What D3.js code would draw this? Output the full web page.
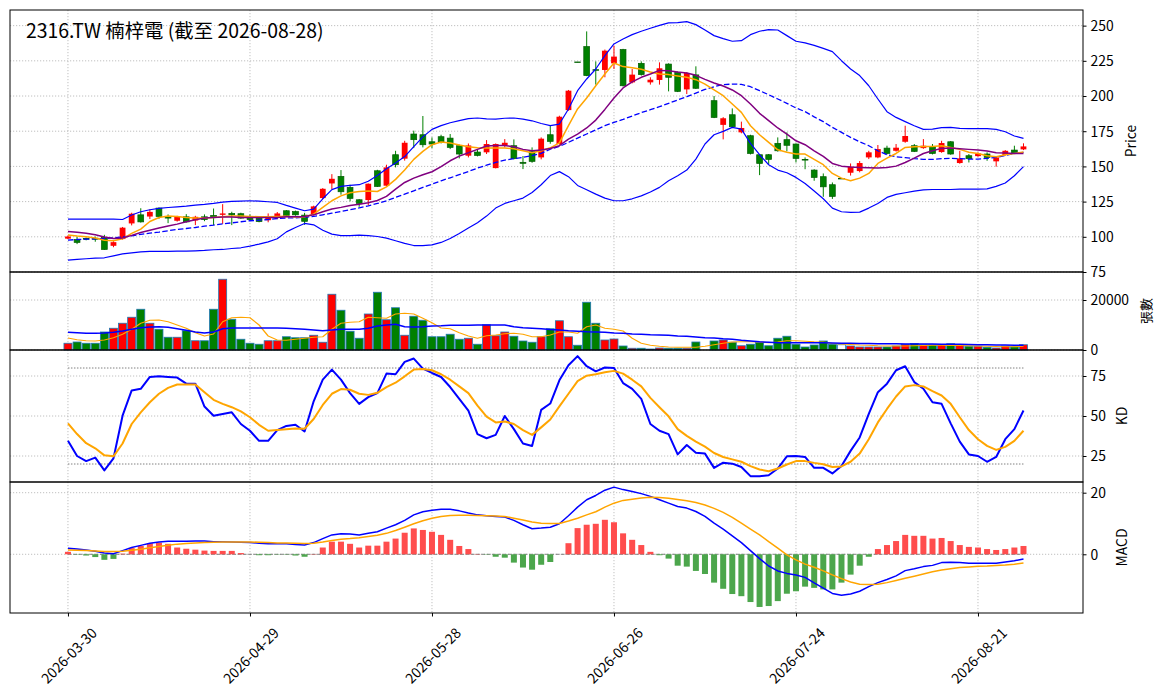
<!DOCTYPE html>
<html lang="zh-Hant">
<head>
    <meta charset="UTF-8">
    <title>2316.TW 楠梓電</title>
    <script src="https://cdn.jsdelivr.net/npm/d3@7"></script>
    <style>
        body { margin: 0; background: #ffffff; }
        svg text { font-family: "Noto Sans CJK TC", "Noto Sans", sans-serif; fill: #000; }
    </style>
</head>
<body>
<svg id="chart"></svg>
<script>
//Trading calendar (weekdays, minus exchange holidays)
const firstDay = "2026-03-30", lastDay = "2026-08-28";
const holidays = ["2026-04-03", "2026-04-06", "2026-05-01", "2026-06-19"];
const tickEvery = 20;
const title = "2316.TW 楠梓電 (截至 2026-08-28)";

//Daily OHLC, one value per trading day
const opens = [
    98.7, 98.1, 98.9, 99.0, 99.5, 93.6, 98.4, 109.5, 115.6, 114.4,
    120.4, 114.2, 111.4, 114.2, 111.6, 114.2, 115.2, 115.6, 116.6, 116.4,
    114.2, 113.3, 111.8, 114.0, 118.5, 117.9, 115.4, 115.6, 127.5, 137.9,
    142.9, 135.1, 126.3, 126.1, 146.9, 136.3, 158.3, 155.5, 173.0, 172.5,
    167.5, 171.1, 170.1, 164.7, 157.6, 160.2, 160.0, 148.8, 165.2, 164.7,
    152.9, 160.4, 156.4, 172.5, 165.9, 190.0, 224.2, 235.1, 218.7, 218.5,
    223.2, 233.0, 209.7, 223.2, 209.7, 211.4, 222.7, 216.8, 204.7, 215.0,
    205.5, 196.7, 179.5, 186.7, 174.2, 171.8, 158.3, 158.3, 166.4, 169.0,
    165.9, 154.9, 147.4, 142.7, 137.0, 141.5, 145.5, 146.7, 156.4, 156.4,
    163.0, 161.1, 167.5, 164.7, 163.0, 164.0, 160.2, 167.5, 152.4, 157.6,
    157.3, 158.8, 153.6, 158.1, 161.6, 162.1];
const highs = [
    100.8, 100.0, 99.5, 100.2, 101.4, 96.8, 107.0, 117.1, 120.3, 119.5,
    120.8, 115.9, 114.9, 116.1, 114.9, 115.9, 120.1, 123.2, 117.8, 117.1,
    115.9, 114.0, 116.6, 117.6, 119.0, 118.6, 117.0, 122.1, 134.6, 144.5,
    147.4, 137.0, 126.8, 137.9, 147.6, 151.2, 161.1, 168.2, 175.4, 185.8,
    170.6, 172.5, 173.0, 165.5, 166.3, 162.1, 168.7, 166.3, 169.4, 169.2,
    157.4, 163.5, 170.6, 178.9, 186.0, 204.3, 224.2, 245.9, 224.6, 233.0,
    235.8, 233.5, 219.2, 224.6, 213.3, 223.9, 223.2, 217.5, 217.0, 221.1,
    205.5, 200.0, 185.0, 191.2, 181.8, 172.5, 158.8, 158.8, 170.6, 174.2,
    166.3, 156.4, 148.0, 145.0, 138.6, 141.5, 152.1, 153.8, 161.1, 165.2,
    164.7, 165.9, 178.9, 165.9, 169.4, 165.9, 168.2, 168.0, 161.1, 158.8,
    160.0, 160.0, 157.0, 161.6, 164.7, 166.4];
const lows = [
    98.3, 94.8, 97.5, 96.5, 90.8, 92.6, 98.0, 108.1, 110.1, 112.6,
    112.8, 109.7, 110.8, 110.1, 108.3, 111.1, 108.3, 109.2, 108.3, 112.8,
    111.4, 110.3, 110.3, 112.5, 114.5, 115.0, 108.5, 115.0, 126.8, 133.9,
    129.9, 125.2, 121.3, 122.5, 135.4, 135.9, 149.3, 154.1, 163.0, 163.5,
    163.0, 166.3, 162.3, 155.7, 156.4, 157.1, 158.8, 148.6, 163.5, 155.0,
    148.1, 152.6, 155.0, 166.1, 165.5, 189.5, 224.0, 214.1, 208.1, 213.3,
    219.2, 206.8, 209.0, 214.5, 208.1, 208.1, 203.3, 202.8, 201.4, 205.0,
    205.5, 184.3, 169.2, 177.5, 173.5, 158.5, 143.8, 151.6, 160.5, 160.7,
    152.8, 148.0, 139.8, 128.4, 126.9, 141.5, 143.5, 145.8, 155.2, 155.8,
    158.5, 160.5, 166.8, 160.2, 162.5, 158.5, 159.7, 158.3, 151.9, 152.8,
    156.8, 154.0, 149.8, 157.6, 158.8, 161.6];
const closes = [
    100.2, 96.0, 98.3, 98.3, 91.0, 96.2, 106.5, 116.4, 110.6, 117.7,
    114.4, 113.3, 114.2, 110.6, 114.2, 112.2, 113.7, 116.6, 115.6, 113.3,
    112.2, 110.8, 114.7, 116.6, 115.2, 115.6, 111.0, 121.6, 134.1, 141.2,
    132.0, 127.3, 123.7, 137.7, 135.8, 149.3, 151.2, 166.8, 169.0, 165.4,
    165.9, 167.5, 163.5, 158.8, 164.9, 157.8, 165.9, 165.9, 166.8, 155.5,
    152.2, 153.6, 169.7, 167.8, 185.3, 203.8, 224.0, 214.5, 218.3, 232.2,
    228.0, 207.3, 215.2, 215.2, 211.6, 219.7, 213.3, 203.3, 216.4, 205.5,
    205.5, 184.8, 184.2, 178.2, 177.3, 159.2, 152.1, 155.0, 161.1, 165.0,
    155.7, 154.6, 142.2, 135.5, 128.7, 141.5, 149.8, 152.4, 160.0, 162.3,
    159.2, 163.3, 171.6, 160.7, 164.7, 159.2, 166.6, 158.8, 155.7, 155.5,
    159.2, 156.4, 156.4, 161.1, 159.2, 164.2];

//Volume in 張
const volumes = [
    2700, 3200, 2700, 2700, 7200, 8700, 10700, 13100, 16300, 10700,
    8300, 5100, 5100, 7700, 3700, 3700, 16300, 28300, 12300, 4300,
    2700, 2300, 3700, 3700, 5300, 4900, 4900, 5900, 3100, 22300,
    15900, 7500, 4700, 14400, 23100, 12100, 16900, 5900, 13500, 11900,
    5300, 5300, 6300, 4300, 4700, 2300, 10100, 5700, 7200, 5500,
    3600, 3100, 5300, 8500, 11700, 5300, 1900, 19100, 10700, 4000,
    4400, 1600, 700, 700, 400, 800, 700, 700, 700, 3200,
    0, 3600, 4000, 3100, 1700, 2300, 3100, 1700, 4700, 5500,
    2300, 1200, 2000, 3600, 2300, 2100, 1600, 1200, 1200, 1200,
    1200, 1600, 2300, 2600, 2100, 2100, 2100, 2500, 1900, 1500,
    1500, 1100, 800, 1600, 1300, 2100];

//Moving averages and Bollinger bands on price
const ma5 = [
    101.2, 100.5, 100.0, 99.1, 97.6, 97.2, 98.6, 102.4, 105.5, 110.9, 113.7, 114.7, 114.5, 113.7, 113.3, 113.3, 113.7, 114.2, 114.7, 114.7, 114.5, 114.2, 114.2, 114.5, 114.6,
    114.0, 114.2, 116.1, 120.9, 125.6, 129.1, 131.3, 132.2, 132.5, 132.2, 135.5, 140.8, 147.4, 155.0, 160.7, 165.4, 167.3, 166.6, 165.2, 164.0, 163.3, 163.0, 163.0, 163.0, 162.6, 161.1, 159.7, 161.1, 163.2, 166.7,
    178.9, 190.8, 198.6, 207.3, 215.6, 223.5, 220.9, 220.1, 219.0, 217.1, 215.6, 215.2, 214.2, 213.3, 211.6, 208.5, 204.3, 200.2, 194.3, 188.4, 178.9, 172.5, 167.1, 161.8, 160.0, 158.8, 158.8, 155.0, 151.2,
    145.0, 141.7, 139.8, 141.7, 145.0, 152.1, 155.9, 159.2, 163.5, 164.0, 164.2, 164.2, 164.7, 163.5, 162.1, 160.0, 159.2, 157.6, 156.9, 158.3, 159.2, 160.2];
const ma10 = [
    103.8, 103.3, 102.6, 101.4, 99.8, 98.8, 99.1, 101.0, 103.1, 104.7, 106.2, 107.6, 109.0, 110.7, 112.1, 113.3, 113.7, 114.0, 114.0, 113.7, 113.7, 113.7, 113.7, 113.7, 114.2,
    114.2, 114.5, 115.6, 117.8, 119.7, 120.9, 122.3, 123.2, 124.2, 125.8, 128.7, 133.9, 138.6, 141.7, 144.1, 146.2, 149.8, 154.0, 157.3, 159.7, 162.1, 164.5, 164.9, 164.9, 164.0, 162.1, 161.1, 161.6, 162.7, 164.7,
    169.4, 173.0, 177.3, 182.9, 190.5, 198.6, 205.7, 210.0, 213.3, 215.6, 218.2, 218.0, 217.1, 216.4, 214.7, 211.8, 209.2, 207.1, 204.3, 200.2, 194.3, 187.7, 182.5, 177.3, 173.0, 168.2, 165.4, 161.1, 157.1,
    152.1, 150.2, 149.5, 149.3, 149.0, 148.8, 149.3, 150.2, 152.8, 155.9, 159.2, 161.1, 162.8, 163.0, 162.6, 162.1, 161.6, 160.9, 159.7, 159.5, 159.2, 159.2];
const ma20 = [
    97.6, 98.1, 98.3, 98.6, 98.8, 99.3, 99.8, 100.7, 101.7, 102.6, 103.3, 104.3, 105.2, 105.9, 106.6, 107.6, 108.3, 109.2, 109.9, 110.7, 111.4, 111.8, 112.3, 113.0, 113.4,
    113.5, 114.0, 114.5, 115.6, 116.8, 118.0, 119.2, 120.6, 122.0, 123.7, 125.6, 128.0, 130.3, 132.7, 135.1, 137.4, 139.8, 141.9, 144.1, 146.4, 148.8, 150.9, 152.8, 154.5, 155.5, 156.4, 157.6, 159.2, 162.3, 164.2,
    167.1, 170.1, 173.0, 176.0, 178.9, 181.3, 183.4, 185.8, 188.2, 190.3, 192.4, 194.8, 197.2, 199.5, 202.1, 204.7, 206.6, 208.1, 208.5, 208.3, 206.6, 203.8, 200.9, 197.9, 194.8, 191.5, 188.9, 185.2, 181.8,
    177.7, 174.2, 170.6, 167.5, 164.7, 161.1, 158.3, 156.9, 156.2, 155.5, 155.0, 155.0, 155.5, 155.7, 155.5, 155.2, 155.2, 155.7, 156.4, 157.8, 159.2, 160.0];
const bbUpper = [
    112.6, 112.6, 112.6, 112.6, 112.6, 112.5, 112.3, 115.5, 117.8, 119.2, 120.2, 120.8, 121.3, 121.8, 122.5, 123.0, 123.7, 124.6, 125.1, 125.4, 125.6, 125.3, 124.9, 124.4, 122.3,
    120.4, 118.5, 119.7, 127.0, 133.5, 135.8, 136.5, 137.0, 139.5, 143.6, 148.3, 152.5, 157.0, 164.0, 171.0, 176.3, 179.0, 181.0, 182.5, 184.0, 184.4, 183.8, 183.6, 184.2, 184.4, 183.6, 182.4, 180.5, 179.0, 180.1,
    190.8, 203.8, 212.1, 219.2, 228.7, 237.0, 240.5, 243.6, 246.0, 248.1, 250.2, 251.9, 252.1, 252.8, 250.7, 246.9, 242.9, 240.8, 238.9, 239.3, 243.6, 246.0, 247.2, 246.9, 242.9, 238.9, 237.7, 236.0, 233.8,
    231.5, 225.1, 219.2, 214.5, 207.3, 197.9, 188.9, 184.8, 181.8, 178.9, 176.3, 176.5, 177.5, 177.7, 177.0, 176.8, 176.8, 176.8, 176.3, 174.6, 171.6, 169.9];
const bbLower = [
    83.4, 83.9, 84.4, 84.8, 85.1, 86.5, 87.9, 88.6, 89.3, 89.6, 89.6, 89.6, 89.8, 89.8, 90.0, 90.3, 90.8, 91.0, 91.7, 92.2, 93.4, 94.8, 96.4, 98.6, 103.5,
    106.6, 109.5, 108.5, 104.7, 101.9, 100.9, 100.9, 101.2, 100.9, 100.2, 99.1, 97.2, 95.3, 93.8, 93.8, 94.3, 96.0, 98.8, 102.4, 106.2, 110.0, 114.7, 120.4, 123.7, 125.6, 127.5, 131.5, 137.0, 143.5, 146.3,
    142.7, 136.5, 133.4, 130.3, 127.5, 125.6, 125.6, 127.0, 129.1, 131.8, 135.1, 139.8, 143.4, 147.4, 155.2, 165.9, 172.5, 174.9, 177.7, 176.5, 166.4, 158.3, 151.2, 147.4, 145.5, 142.2, 137.9, 132.5, 127.0,
    120.4, 117.8, 117.3, 117.5, 120.4, 123.7, 128.0, 130.1, 131.3, 132.5, 133.4, 133.6, 133.6, 133.6, 133.9, 133.9, 133.9, 134.1, 135.8, 138.2, 143.4, 149.8];

//Volume averages
const volMa5 = [
    4800, 4100, 3700, 3600, 4000, 4900, 6300, 8300, 10700, 11900, 12000, 11300, 10000, 8700, 6900, 5600, 6400, 11300, 12900, 13100, 12900, 10000, 5600, 4000, 3900,
    4300, 4700, 5100, 5300, 8300, 10700, 11100, 11300, 13100, 12900, 12700, 14400, 14700, 14400, 12700, 10900, 8800, 8500, 6900, 5600, 4700, 5700, 6000, 6500, 6700, 6300, 5300, 5300, 6000, 7200,
    7200, 6700, 9300, 10000, 8700, 8300, 7600, 4700, 2700, 1900, 1500, 1200, 1100, 1100, 1100, 1500, 2100, 2700, 3200, 3300, 3300, 3200, 2900, 3200, 3700, 3700, 3500, 3300, 3200,
    2600, 2400, 2200, 2000, 1900, 1700, 1600, 1600, 1600, 1700, 1800, 1900, 1900, 1800, 1800, 1700, 1600, 1500, 1400, 1300, 1300, 1500];
const volMa20 = [
    7100, 6900, 6700, 6700, 6800, 7100, 7600, 8300, 8900, 9200, 9300, 9100, 8500, 7900, 7200, 6800, 7200, 8500, 8800, 8800, 8800, 8800, 8800, 8800, 8700,
    8500, 8300, 8000, 7700, 8000, 8300, 8300, 8300, 8700, 9600, 10000, 10300, 9300, 9200, 9300, 9600, 9700, 9900, 9900, 9900, 10000, 10000, 10000, 10000, 9300, 8900, 8700, 8500, 8200, 8000,
    7700, 7500, 7300, 7200, 7100, 6800, 6700, 6400, 6300, 6100, 6000, 5900, 5600, 5500, 5200, 4900, 4800, 4500, 4300, 3900, 3600, 3300, 3100, 2900, 2900, 2900, 2900, 2900, 2900,
    2800, 2700, 2700, 2600, 2600, 2500, 2500, 2500, 2400, 2400, 2400, 2400, 2300, 2300, 2300, 2200, 2100, 2100, 2000, 2000, 1900, 1900];

//Stochastic K and D
const kLine = [
    34.5, 25.0, 21.8, 24.0, 16.0, 23.5, 50.2, 66.0, 67.0, 74.4, 74.8, 74.4, 74.0, 70.2, 70.2, 55.9, 50.2, 51.3, 52.3, 45.0, 40.8, 34.5, 34.5, 41.2, 43.8,
    44.5, 40.3, 59.2, 72.7, 79.0, 72.7, 64.3, 57.6, 61.8, 64.3, 76.5, 76.1, 83.8, 85.9, 79.6, 76.9, 74.4, 68.1, 60.7, 53.4, 38.7, 36.1, 38.2, 50.0, 41.8, 32.8, 31.3, 53.8, 57.8, 72.3,
    81.7, 87.4, 81.1, 77.9, 80.3, 80.0, 70.6, 67.0, 60.7, 45.0, 40.8, 38.7, 26.0, 31.9, 27.1, 26.5, 17.6, 20.8, 20.2, 18.1, 12.4, 12.4, 13.0, 17.2, 24.8, 25.0, 24.4, 17.6, 17.6,
    14.1, 18.7, 28.2, 36.6, 51.3, 64.9, 70.2, 78.6, 81.1, 71.2, 67.0, 58.6, 57.6, 45.4, 34.0, 26.0, 25.0, 21.4, 24.4, 35.5, 41.8, 53.4];
const dLine = [
    45.4, 38.7, 33.0, 29.8, 25.4, 24.8, 32.8, 45.0, 52.3, 58.6, 63.9, 67.6, 69.7, 69.7, 69.7, 64.9, 60.1, 57.6, 55.5, 52.9, 49.2, 44.5, 40.8, 41.2, 41.7,
    42.2, 42.0, 48.1, 56.9, 63.9, 66.8, 66.4, 63.9, 63.2, 64.5, 68.1, 70.8, 74.8, 79.0, 79.4, 78.6, 76.1, 72.7, 68.5, 64.3, 56.5, 49.6, 46.0, 46.6, 45.0, 41.2, 38.2, 42.9, 47.8, 56.0,
    63.9, 71.8, 75.2, 76.1, 77.3, 78.2, 76.5, 72.7, 68.5, 61.3, 55.5, 49.8, 41.8, 37.6, 34.0, 30.9, 26.9, 24.4, 22.9, 21.4, 18.7, 16.6, 15.5, 17.2, 19.7, 21.8, 21.8, 20.7, 19.8,
    18.1, 18.5, 21.4, 26.5, 35.5, 46.0, 54.4, 62.2, 68.5, 69.3, 68.5, 65.5, 62.8, 57.6, 49.2, 41.2, 35.5, 31.3, 28.8, 30.7, 34.5, 40.8];

//MACD: DIF, signal and histogram
const dif = [
    1.96, 1.7, 1.4, 1.0, 0.4, 0.2, 1.2, 2.2, 2.9, 3.6, 4.0, 4.2, 4.2, 4.2, 4.3, 4.3, 4.1, 4.1, 4.0, 3.9, 3.8, 3.6, 3.4, 3.4, 3.4,
    3.2, 3.0, 3.8, 5.1, 6.3, 6.7, 6.6, 6.3, 6.8, 7.3, 8.5, 9.6, 11.0, 12.8, 13.8, 14.3, 14.6, 14.6, 14.1, 13.4, 12.8, 12.5, 12.3, 12.1, 11.0, 9.6, 8.3, 8.5, 8.8, 9.9,
    12.5, 15.3, 17.7, 19.1, 20.8, 21.8, 21.0, 20.4, 19.7, 18.8, 17.7, 16.6, 15.5, 15.0, 13.9, 12.3, 10.1, 8.2, 6.0, 3.8, 1.2, -1.4, -3.8, -5.4, -6.2, -6.7, -7.5, -9.3, -11.0,
    -12.7, -13.3, -12.9, -12.0, -10.5, -9.2, -8.2, -7.0, -5.3, -4.7, -4.0, -3.6, -2.7, -2.6, -2.7, -2.9, -2.9, -2.9, -2.9, -2.5, -2.1, -1.5];
const dea = [
    1.4, 1.3, 1.2, 1.1, 0.9, 0.9, 1.0, 1.3, 1.6, 2.1, 2.5, 2.9, 3.3, 3.5, 3.7, 3.8, 3.9, 4.0, 4.0, 4.0, 4.0, 3.9, 3.8, 3.7, 3.7,
    3.6, 3.5, 3.6, 4.0, 4.5, 4.9, 5.1, 5.4, 5.8, 6.2, 6.8, 7.7, 8.8, 9.9, 10.9, 11.7, 12.3, 12.6, 12.7, 12.7, 12.6, 12.5, 12.4, 12.3, 11.7, 11.1, 10.5, 10.1, 10.0, 10.0,
    10.8, 11.7, 12.8, 13.8, 15.3, 16.6, 17.5, 17.9, 18.3, 18.5, 18.4, 18.2, 17.8, 17.4, 16.8, 16.0, 14.9, 13.6, 12.0, 10.1, 8.2, 6.3, 4.1, 2.0, -0.2, -1.8, -3.2, -4.2, -5.4,
    -6.7, -7.9, -9.0, -9.7, -9.8, -9.7, -9.2, -8.5, -7.8, -7.1, -6.4, -5.7, -5.1, -4.7, -4.3, -4.1, -3.9, -3.8, -3.6, -3.5, -3.2, -2.8];
const macdHist = [
    0.8, -0.1, -0.4, -0.9, -1.8, -1.5, 0.2, 2.0, 2.7, 3.6, 3.8, 3.4, 2.2, 1.8, 1.5, 1.2, 1.1, 1.1, 1.1, 0.4, 0.0, -0.3, -0.3, -0.1, -0.1,
    -0.4, -0.8, 0.1, 2.2, 4.1, 4.1, 3.4, 2.2, 2.8, 2.8, 4.1, 5.1, 7.0, 8.4, 7.9, 7.3, 6.3, 4.7, 2.7, 1.7, 0.1, -0.1, -0.8, -1.1, -2.7, -4.3, -5.0, -3.4, -2.5, 0.0,
    3.6, 8.5, 9.6, 9.9, 11.2, 10.4, 6.8, 4.7, 3.0, 0.8, -0.3, -1.4, -3.7, -4.0, -5.4, -6.4, -9.2, -11.2, -12.9, -13.6, -15.5, -17.1, -16.8, -15.2, -12.8, -12.0, -10.5, -10.9, -11.4,
    -11.4, -9.2, -6.6, -3.7, -0.8, 1.7, 3.0, 4.3, 6.3, 6.0, 6.0, 5.1, 5.3, 4.3, 3.0, 2.4, 2.2, 1.7, 1.4, 1.7, 2.2, 2.7];

//Build the list of trading dates
const dates = [];
for (let d = new Date(firstDay + "T00:00:00Z"); d <= new Date(lastDay + "T00:00:00Z"); d.setUTCDate(d.getUTCDate() + 1)) {
    const s = d.toISOString().slice(0, 10), wd = d.getUTCDay();
    if (wd !== 0 && wd !== 6 && !holidays.includes(s)) dates.push(s);
}

const n = closes.length;
const idx = d3.range(n);
const tickIdx = idx.filter(i => i % tickEvery === 0);

const width = 1164, height = 698, left = 10, right = 1083;
const svg = d3.select("#chart").attr("width", width).attr("height", height);

const x = d3.scaleLinear().domain([-6.37, 111.54]).range([left, right]);
const yP = d3.scaleLinear().domain([75, 261.1]).range([272, 10]);
const yV = d3.scaleLinear().domain([0, 31200]).range([350, 272]);
const yK = d3.scaleLinear().domain([8.75, 91.25]).range([482, 350]);
const yM = d3.scaleLinear().domain([-19.06, 23.47]).range([613, 482]);

const panels = [
    {top: 10, bottom: 272, y: yP, ticks: d3.range(75, 251, 25), label: "Price", lx: 1130, lsize: 13.9},
    {top: 272, bottom: 350, y: yV, ticks: [0, 20000], label: "張數", lx: 1145, lsize: 13},
    {top: 350, bottom: 482, y: yK, ticks: [25, 50, 75], label: "KD", lx: 1120.5, lsize: 13.9},
    {top: 482, bottom: 613, y: yM, ticks: [0, 20], label: "MACD", lx: 1121, lsize: 13.9}
];

//Gridlines
const grid = svg.append("g").attr("stroke", "#b0b0b0").attr("stroke-width", 0.8).attr("stroke-dasharray", "1.2,1.8");
panels.forEach(p => {
    grid.append("g").selectAll("line").data(tickIdx).join("line")
        .attr("x1", i => x(i)).attr("x2", i => x(i))
        .attr("y1", p.top).attr("y2", p.bottom);
    grid.append("g").selectAll("line").data(p.ticks).join("line")
        .attr("x1", left).attr("x2", right)
        .attr("y1", t => p.y(t)).attr("y2", t => p.y(t));
});

const up = "#ff0000", down = "#008000";
const traded = idx.filter(i => volumes[i] > 0);
const candleColor = i => closes[i] > opens[i] ? up : down;

//Candlesticks
const gC = svg.append("g");
gC.selectAll("line").data(traded).join("line")
    .attr("x1", i => x(i)).attr("x2", i => x(i))
    .attr("y1", i => yP(highs[i])).attr("y2", i => yP(lows[i]))
    .attr("stroke", candleColor).attr("stroke-width", 1);
gC.selectAll("rect").data(traded).join("rect")
    .attr("x", i => x(i) - 2.9).attr("width", 5.8)
    .attr("y", i => yP(Math.max(opens[i], closes[i])))
    .attr("height", i => Math.max(0.6, Math.abs(yP(opens[i]) - yP(closes[i]))))
    .attr("fill", candleColor)
    .attr("stroke", i => closes[i] > opens[i] ? "none" : "#005c00").attr("stroke-width", 0.7);

const drawLine = (values, y, color, w, dash) => svg.append("path").datum(values)
    .attr("d", d3.line().x((d, i) => x(i)).y(d => y(d)))
    .attr("fill", "none").attr("stroke", color).attr("stroke-width", w)
    .attr("stroke-dasharray", dash || null).attr("stroke-linejoin", "round");

//Price overlays
drawLine(bbUpper, yP, "#0000ff", 1.2);
drawLine(bbLower, yP, "#0000ff", 1.2);
drawLine(ma20, yP, "#0000ff", 1.3, "5.5,2.4");
drawLine(ma5, yP, "#ffa500", 1.5);
drawLine(ma10, yP, "#800080", 1.5);

//Volume bars and averages
svg.append("g").selectAll("rect").data(traded).join("rect")
    .attr("x", i => x(i) - 4).attr("width", 8)
    .attr("y", i => yV(volumes[i])).attr("height", i => yV(0) - yV(volumes[i]))
    .attr("fill", i => closes[i] > opens[i] ? up : closes[i] < opens[i] ? down : "#ffffff")
    .attr("stroke", "#1f77b4").attr("stroke-width", 0.8);
drawLine(volMa5, yV, "#ffa500", 1.2);
drawLine(volMa20, yV, "#0000ff", 1.5);

//KD
[20, 80].forEach(v => svg.append("line")
    .attr("x1", x(0)).attr("x2", x(n - 1)).attr("y1", yK(v)).attr("y2", yK(v))
    .attr("stroke", "#808080").attr("stroke-width", 1).attr("stroke-dasharray", "1.5,1.5"));
drawLine(kLine, yK, "#0000ff", 2);
drawLine(dLine, yK, "#ffa500", 2);

//MACD
svg.append("line")
    .attr("x1", x(0)).attr("x2", x(n - 1)).attr("y1", yM(0)).attr("y2", yM(0))
    .attr("stroke", "#808080").attr("stroke-width", 1).attr("stroke-dasharray", "3.7,1.6");
svg.append("g").selectAll("rect").data(idx).join("rect")
    .attr("x", i => x(i) - 3).attr("width", 6)
    .attr("y", i => yM(Math.max(0, macdHist[i])))
    .attr("height", i => Math.abs(yM(macdHist[i]) - yM(0)))
    .attr("fill", i => macdHist[i] >= 0 ? "#ff4d4d" : "#4ca64c");
drawLine(dif, yM, "#0000ff", 1.5);
drawLine(dea, yM, "#ffa500", 1.5);

//Panel frames, right axes and labels
panels.forEach(p => {
    svg.append("rect").attr("x", left).attr("y", p.top)
        .attr("width", right - left).attr("height", p.bottom - p.top)
        .attr("fill", "none").attr("stroke", "#000").attr("stroke-width", 1);
    const ax = svg.append("g").attr("transform", `translate(${right},0)`)
        .call(d3.axisRight(p.y).tickValues(p.ticks).tickSize(3.5).tickPadding(4).tickFormat(d3.format("d")));
    ax.select(".domain").remove();
    ax.selectAll("text").attr("font-size", 13.9).attr("dy", "0.35em");
    svg.append("text")
        .attr("transform", `translate(${p.lx},${(p.top + p.bottom) / 2}) rotate(-90)`)
        .attr("text-anchor", "middle").attr("dominant-baseline", "central")
        .attr("font-size", p.lsize).text(p.label);
});

//Date axis
const xa = svg.append("g").attr("transform", "translate(0,613)")
    .call(d3.axisBottom(x).tickValues(tickIdx).tickSize(3.5).tickFormat(i => dates[i]));
xa.select(".domain").remove();
xa.selectAll("text")
    .attr("x", 0).attr("y", 0).attr("dy", null)
    .attr("text-anchor", "middle").attr("dominant-baseline", "central")
    .attr("font-size", 13.9)
    .attr("transform", "translate(0,42) rotate(-45)");

//Title
svg.append("text").attr("x", 26).attr("y", 37.5).attr("font-size", 19.4).text(title);
</script>
</body>
</html>
